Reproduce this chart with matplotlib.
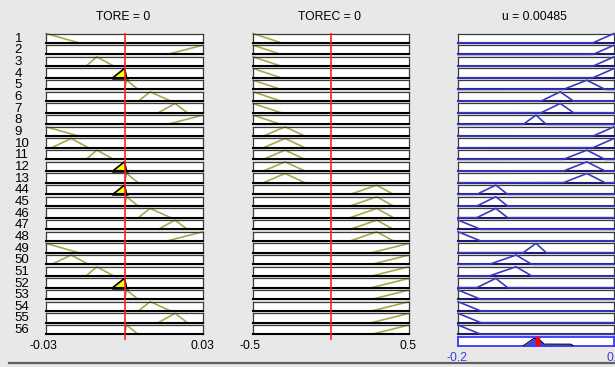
import numpy as np
import matplotlib
matplotlib.use("Agg")
import matplotlib.pyplot as plt
from matplotlib.lines import Line2D

plt.rcParams["font.family"] = ["Liberation Sans", "DejaVu Sans"]

# ---- fuzzy system description -------------------------------------------
rule_labels = ["1", "2", "3", "4", "5", "6", "7", "8", "9", "10", "11", "12", "13",
               "44", "45", "46", "47", "48", "49", "50", "51", "52", "53", "54", "55", "56"]

tore_range = (-0.03, 0.03)
torec_range = (-0.5, 0.5)
u_range = (-0.2, 0.2)

# triangular membership functions [a, b, c]
tore_mf = {
    "NB": [-0.03, -0.03, -0.0175],
    "NM": [-0.0278, -0.0204, -0.0138],
    "NS": [-0.0147, -0.0106, -0.0041],
    "NZ": [-0.0045, 0.0, 0.0008],
    "PZ": [0.0, 0.0008, 0.0052],
    "PS": [0.0053, 0.0098, 0.0177],
    "PM": [0.0129, 0.0193, 0.024],
    "PB": [0.0162, 0.03, 0.03],
}
torec_mf = {
    "NB": [-0.5, -0.5, -0.32],
    "NS": [-0.434, -0.295, -0.167],
    "PS": [0.122, 0.293, 0.40],
    "PB": [0.26, 0.5, 0.5],
}
u_mf = {
    "NB": [-0.2, -0.2, -0.142],
    "NM": [-0.152, -0.103, -0.073],
    "NS": [-0.12, -0.051, -0.011],
    "Z": [-0.033, 0.0, 0.026],
    "PS": [0.013, 0.062, 0.096],
    "PM": [0.070, 0.130, 0.177],
    "PB": [0.146, 0.2, 0.2],
}

rule_tore = ["NB", "PB", "NS", "NZ", "PZ", "PS", "PM", "PB", "NB", "NM", "NS", "NZ", "PZ",
             "NZ", "PZ", "PS", "PM", "PB", "NB", "NM", "NS", "NZ", "PZ", "PS", "PM", "PZ"]
rule_torec = ["NB"] * 8 + ["NS"] * 5 + ["PS"] * 5 + ["PB"] * 8
rule_u = ["PB", "PB", "PB", "PB", "PM", "PS", "PS", "Z", "PB", "PB", "PM", "PM", "PM",
          "NM", "NM", "NM", "NB", "NB", "Z", "NS", "NS", "NM", "NB", "NB", "NB", "NB"]

tore_value = 0
torec_value = 0
u_value = 0.00485

# clipping levels of the aggregated output set
agg_levels = {"Z": 0.8, "PS": 0.2}

# ---- helpers -------------------------------------------------------------
def trimf(x, p):
    a, b, c = p
    x = np.asarray(x, dtype=float)
    left = np.where(b > a, (x - a) / (b - a + 1e-15), (x >= a).astype(float))
    right = np.where(c > b, (c - x) / (c - b + 1e-15), (x <= c).astype(float))
    return np.clip(np.minimum(left, right), 0, 1)


W, H, DPI = 615, 367, 100
BG = "#e8e8e8"
fig = plt.figure(figsize=(W / DPI, H / DPI), dpi=DPI, facecolor=BG)


def add_ax(x0, y_top, w, h):
    return fig.add_axes([x0 / W, 1 - (y_top + h) / H, w / W, h / H])


cols = [(46, 157), (253, 156), (458, 156)]
row_top0, row_pitch, row_h = 33.5, 11.66, 9.3

IN_COLOR = "#a8a84c"
OUT_COLOR = "#3a3ac0"


def style_box(ax, rng, bottom_color="black"):
    ax.set_xlim(*rng)
    ax.set_ylim(0, 1)
    ax.set_xticks([])
    ax.set_yticks([])
    ax.set_facecolor("white")
    for s in ("top", "left", "right"):
        ax.spines[s].set_color("#3a3a3a")
        ax.spines[s].set_linewidth(0.9)
    ax.spines["bottom"].set_color(bottom_color)
    ax.spines["bottom"].set_linewidth(1.5)


def draw_input(ax, rng, params, value):
    style_box(ax, rng)
    x = np.linspace(rng[0], rng[1], 1201)
    y = trimf(x, params)
    mu = float(trimf(value, params))
    if mu > 0:
        yf = np.minimum(y, mu)
        m = yf > 0
        ax.fill_between(x[m], 0, yf[m], color="#ffff00", zorder=2, clip_on=False, lw=0)
        ax.plot(x[m], yf[m], color="black", lw=1.1, zorder=3, clip_on=False)
        ax.plot([x[m][0], x[m][-1]], [0, 0], color="black", lw=1.8, zorder=3, clip_on=False)
    mask = y > 0
    ax.plot(x[mask], y[mask], color=IN_COLOR, lw=1.2, zorder=2.2, clip_on=False)


def draw_output(ax, rng, params):
    style_box(ax, rng, bottom_color="#1a1a70")
    x = np.linspace(rng[0], rng[1], 1201)
    y = trimf(x, params)
    ax.plot(x, y, color=OUT_COLOR, lw=1.2, zorder=3, clip_on=False)


for i, lab in enumerate(rule_labels):
    top = row_top0 + i * row_pitch
    fig.text(14.5 / W, 1 - (top + row_h / 2 + 0.5) / H, lab, fontsize=9.5,
             ha="left", va="center", color="black")
    ax1 = add_ax(cols[0][0], top, cols[0][1], row_h)
    draw_input(ax1, tore_range, tore_mf[rule_tore[i]], tore_value)
    ax2 = add_ax(cols[1][0], top, cols[1][1], row_h)
    draw_input(ax2, torec_range, torec_mf[rule_torec[i]], torec_value)
    ax3 = add_ax(cols[2][0], top, cols[2][1], row_h)
    draw_output(ax3, u_range, u_mf[rule_u[i]])

# aggregated output set
agg_top = row_top0 + len(rule_labels) * row_pitch
axa = add_ax(cols[2][0], agg_top, cols[2][1], row_h)
axa.set_xlim(*u_range)
axa.set_ylim(0, 1)
axa.set_xticks([])
axa.set_yticks([])
axa.set_facecolor("white")
for s in axa.spines.values():
    s.set_color("#3a3aee")
    s.set_linewidth(1.3)
xa = np.linspace(u_range[0], u_range[1], 2001)
agg = np.zeros_like(xa)
for name, lvl in agg_levels.items():
    agg = np.maximum(agg, np.minimum(trimf(xa, u_mf[name]), lvl))
nz = agg > 0
axa.fill_between(xa[nz], 0, agg[nz], color="#4646e6", zorder=2, lw=0)
axa.plot(xa[nz], agg[nz], color="black", lw=0.8, zorder=3)
axa.plot([u_value, u_value], [0, 1], color="#ff0000", lw=3.2, zorder=4,
         solid_capstyle="butt")

# input value lines across all rules
line_top, line_bot = 32.5, 340
for (x0, w), rng, val in [(cols[0], tore_range, tore_value),
                          (cols[1], torec_range, torec_value)]:
    ov = add_ax(x0, line_top, w, line_bot - line_top)
    ov.set_xlim(*rng)
    ov.set_ylim(0, 1)
    ov.axis("off")
    ov.patch.set_alpha(0)
    ov.axvline(val, color="#ff2020", lw=1.2, zorder=5)

# titles
titles = [f"TORE = {tore_value:g}", f"TOREC = {torec_value:g}", f"u = {u_value:g}"]
for (x0, w), t in zip(cols, titles):
    fig.text((x0 + w / 2 - 1.5) / W, 1 - 16.5 / H, t, fontsize=8.7,
             ha="center", va="center")

# range labels
for (x0, w), rng in [(cols[0], tore_range), (cols[1], torec_range)]:
    fig.text((x0 - 3) / W, 1 - 346 / H, f"{rng[0]:g}", fontsize=8.7, ha="center", va="center")
    fig.text((x0 + w - 1) / W, 1 - 346 / H, f"{rng[1]:g}", fontsize=8.7, ha="center", va="center")
fig.text((cols[2][0] - 1) / W, 1 - 358 / H, f"{u_range[0]:g}", fontsize=8.7,
         ha="center", va="center", color="#3a3aee")
fig.text((cols[2][0] + cols[2][1] + 1) / W, 1 - 358 / H, f"{u_range[1]:g}", fontsize=8.7,
         ha="center", va="center", color="#3a3aee")

# bottom panel edge
fig.add_artist(Line2D([9 / W, 1], [1 - 363 / H] * 2, color="#606060", lw=1.6))

fig.savefig("out.png", dpi=DPI, facecolor=BG)
